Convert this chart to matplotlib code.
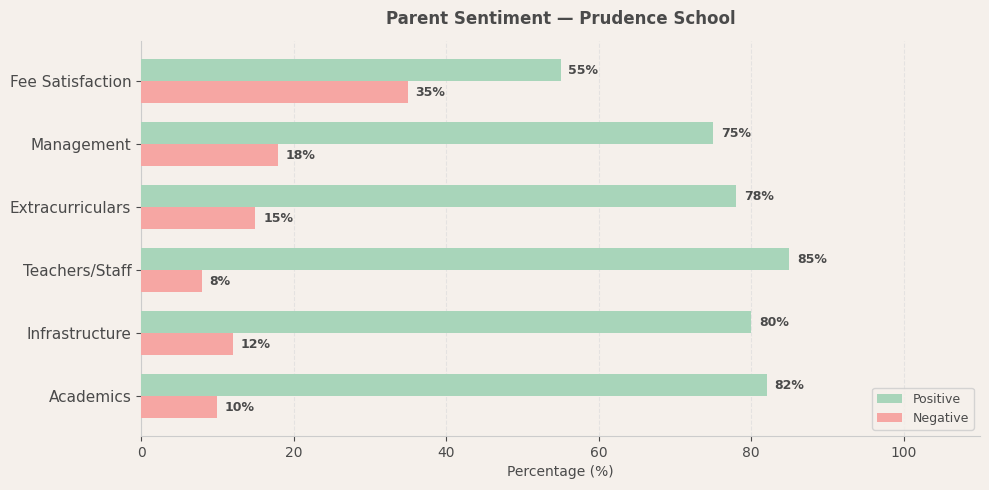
import matplotlib
matplotlib.use("Agg")
import matplotlib.pyplot as plt
import numpy as np

categories = ["Academics", "Infrastructure", "Teachers/Staff", "Extracurriculars", "Management", "Fee Satisfaction"]
positive = [82, 80, 85, 78, 75, 55]
negative = [10, 12, 8, 15, 18, 35]

bg = "#f5f0eb"
green = "#a8d5ba"
red = "#f6a6a3"
textc = "#4a4a4a"

fig, ax = plt.subplots(figsize=(9.89, 4.9), dpi=100)
fig.patch.set_facecolor(bg)
ax.set_facecolor(bg)

y = np.arange(len(categories))
h = 0.35
bp = ax.barh(y + h / 2, positive, height=h, color=green, label="Positive", zorder=3)
bn = ax.barh(y - h / 2, negative, height=h, color=red, label="Negative", zorder=3)

for bars, vals in ((bp, positive), (bn, negative)):
    for b, v in zip(bars, vals):
        ax.text(v + 1, b.get_y() + b.get_height() / 2, f"{v}%", va="center", ha="left",
                fontsize=9, fontweight="bold", color=textc)

ax.set_yticks(y)
ax.set_yticklabels(categories, fontsize=11, color=textc)
ax.set_xlim(0, 110)
ax.set_xticks([0, 20, 40, 60, 80, 100])
ax.tick_params(axis="x", labelsize=10, colors=textc)
ax.tick_params(axis="y", colors=textc)
ax.set_xlabel("Percentage (%)", fontsize=10, color=textc)
ax.set_title("Parent Sentiment — Prudence School", fontsize=12, fontweight="bold", color=textc, pad=12)

ax.grid(axis="x", linestyle="--", color="#dddddd", alpha=0.7, zorder=0)
for s in ("top", "right"):
    ax.spines[s].set_visible(False)
for s in ("left", "bottom"):
    ax.spines[s].set_color("#cccccc")

leg = ax.legend(loc="lower right", fontsize=9, frameon=True)
leg.get_frame().set_facecolor(bg)
leg.get_frame().set_edgecolor("#cccccc")
for t in leg.get_texts():
    t.set_color(textc)

fig.subplots_adjust(left=0.1426, right=0.991, top=0.916, bottom=0.11)
fig.savefig("out.png", dpi=100, facecolor=bg)
